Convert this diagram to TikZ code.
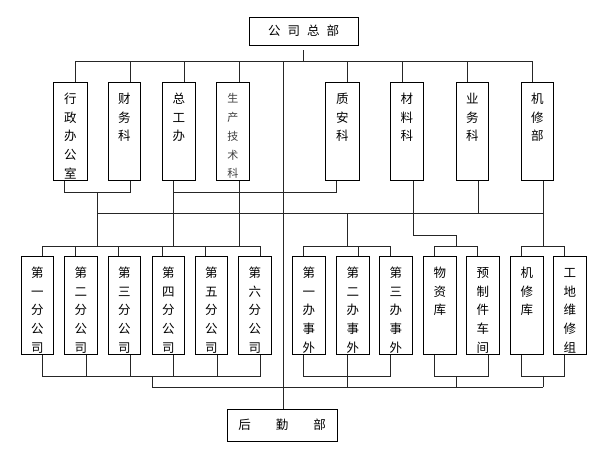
\documentclass[tikz,border=0pt]{standalone}
\usepackage{fontspec}
\setmainfont{Noto Sans CJK SC}
\newcommand{\vt}[3]{\parbox[c][#1pt][t]{#2pt}{\centering\fontsize{12.5}{18.7}\selectfont\rule{0pt}{21pt}#3}}
\newcommand{\vts}[3]{\parbox[c][#1pt][t]{#2pt}{\centering\fontsize{11}{18.7}\selectfont\color{black!75}\rule{0pt}{20.5pt}#3}}
\begin{document}
\begin{tikzpicture}[x=1pt,y=-1pt,
  ln/.style={line width=0.9pt, draw=black!85},
  box/.style={draw=black, line width=0.9pt, inner sep=0pt, anchor=north west},
  cbox/.style={draw=black, line width=0.9pt, inner sep=0pt, anchor=center, font=\fontsize{12.5}{14}\selectfont}]
\useasboundingbox[fill=white] (0,0) rectangle (600,453);
% top and bottom boxes
\node[cbox, minimum width=109pt, minimum height=28pt] (top) at (303.5,31) {公\hspace{7pt}司\hspace{7pt}总\hspace{7pt}部};
\node[cbox, minimum width=110pt, minimum height=32pt] (hq) at (282,425) {后\hspace{25pt}勤\hspace{25pt}部};
% top row
\node[box] (t1) at (53,82)  {\vt{98}{34}{行\\政\\办\\公\\室}};
\node[box] (t2) at (108,82) {\vt{98}{32}{财\\务\\科}};
\node[box] (t3) at (162,82) {\vt{98}{33}{总\\工\\办}};
\node[box] (t4) at (216,82) {\vts{98}{33}{生\\产\\技\\术\\科}};
\node[box] (t5) at (325,82) {\vt{98}{34}{质\\安\\科}};
\node[box] (t6) at (390,82) {\vt{98}{33}{材\\料\\科}};
\node[box] (t7) at (456,82) {\vt{98}{32}{业\\务\\科}};
\node[box] (t8) at (521,82) {\vt{98}{32}{机\\修\\部}};
% bottom row
\node[box] (b1)  at (21,256)  {\vt{98}{32}{第\\一\\分\\公\\司}};
\node[box] (b2)  at (64,256)  {\vt{98}{33}{第\\二\\分\\公\\司}};
\node[box] (b3)  at (108,256) {\vt{98}{32}{第\\三\\分\\公\\司}};
\node[box] (b4)  at (152,256) {\vt{98}{32}{第\\四\\分\\公\\司}};
\node[box] (b5)  at (195,256) {\vt{98}{32}{第\\五\\分\\公\\司}};
\node[box] (b6)  at (238,256) {\vt{98}{33}{第\\六\\分\\公\\司}};
\node[box] (b7)  at (292,256) {\vt{98}{33}{第\\一\\办\\事\\外}};
\node[box] (b8)  at (336,256) {\vt{98}{33}{第\\二\\办\\事\\外}};
\node[box] (b9)  at (379,256) {\vt{98}{33}{第\\三\\办\\事\\外}};
\node[box] (b10) at (423,256) {\vt{98}{33}{物\\资\\库}};
\node[box] (b11) at (466,256) {\vt{98}{33}{预\\制\\件\\车\\间}};
\node[box] (b12) at (510,256) {\vt{98}{33}{机\\修\\库}};
\node[box] (b13) at (553,256) {\vt{98}{33}{工\\地\\维\\修\\组}};
% junction coordinates
\coordinate (J0) at (303,61);
\coordinate (JL) at (75,61);
\coordinate (JR) at (532,61);
\coordinate (M1) at (97,213);
\coordinate (M2) at (543,213);
\coordinate (BB) at (0,246);
\coordinate (L1) at (152,387);
\coordinate (L2) at (543,387);
% top connections
\draw[ln, shorten <=5pt] (top.south -| J0) -- (J0);
\draw[ln] (JL) -- (JR);
\foreach \n/\x in {t1/75,t2/130,t3/184,t4/239,t5/347,t6/402,t7/467,t8/532}
  \draw[ln] (\n.north -| \x,0) -- (J0 -| \x,0);
\draw[ln] (J0 -| 283,0) -- (hq.north -| 283,0);
% below top row
\draw[ln] (t1.south -| 64,0) -- ++(0,12) -| (t2.south -| 130,0);
\draw[ln] (97,192) -- (BB -| 97,0);
\draw[ln] (t3.south -| 173,0) -- (BB -| 173,0);
\draw[ln] (t3.south -| 173,0) ++(0,12) -| (t5.south -| 336,0);
\draw[ln] (t4.south -| 239,0) -- (BB -| 239,0);
\draw[ln] (M1) -- (M2);
\draw[ln] (t6.south -| 413,0) |- (456,235) -- (BB -| 456,0);
\draw[ln] (t7.south -| 478,0) -- (M2 -| 478,0);
\draw[ln] (t8.south -| 543,0) -- (BB -| 543,0);
\draw[ln] (M1 -| 347,0) -- (BB -| 347,0);
% bottom row top buses
\draw[ln] (b1.north -| 42,0) -- ++(0,-10) -| (b6.north -| 260,0);
\foreach \n/\x in {b2/75,b3/118,b4/162,b5/205} \draw[ln] (\n.north -| \x,0) -- ++(0,-10);
\draw[ln] (b7.north -| 303,0) -- ++(0,-10) -| (b9.north -| 390,0);
\draw[ln] (b8.north -| 358,0) -- ++(0,-10);
\draw[ln] (b10.north -| 434,0) -- ++(0,-10) -| (b11.north -| 477,0);
\draw[ln] (b12.north -| 521,0) -- ++(0,-10) -| (b13.north -| 564,0);
% bottom row bottom buses
\draw[ln] (b1.south -| 42,0) -- ++(0,22) -| (b6.south -| 260,0);
\foreach \n/\x in {b2/86,b3/130,b4/173,b5/217} \draw[ln] (\n.south -| \x,0) -- ++(0,22);
\draw[ln] (b7.south -| 303,0) -- ++(0,22) -| (b9.south -| 390,0);
\draw[ln] (b8.south -| 347,0) -- ++(0,22);
\draw[ln] (b10.south -| 434,0) -- ++(0,22) -| (b11.south -| 488,0);
\draw[ln] (b12.south -| 521,0) -- ++(0,22) -| (b13.south -| 564,0);
% bottom line
\draw[ln] (L1) -- (L2);
\foreach \x in {152,347,456,543} \draw[ln] (L1 -| \x,0) -- (\x,376);
\end{tikzpicture}
\end{document}
